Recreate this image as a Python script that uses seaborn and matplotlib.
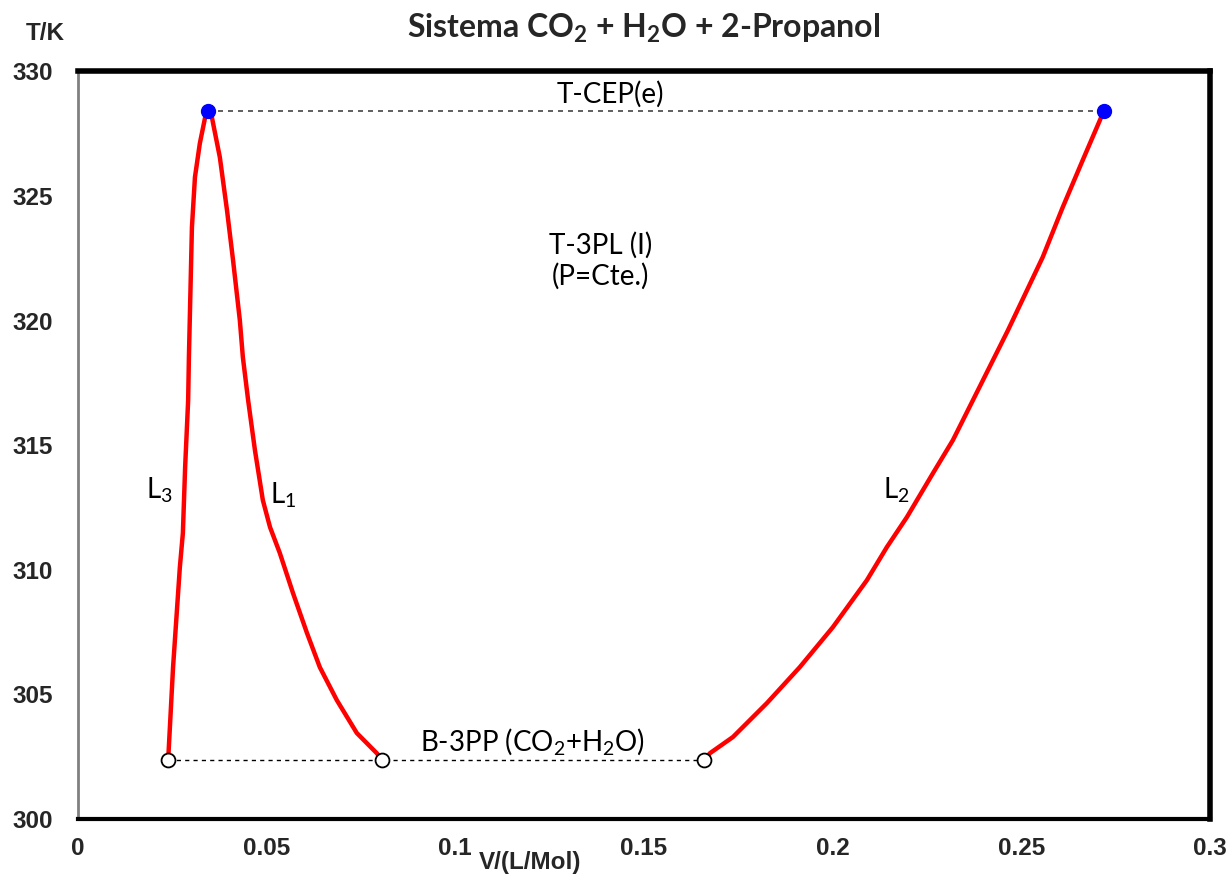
import matplotlib
matplotlib.use("Agg")
import matplotlib.pyplot as plt
import seaborn as sns
import pandas as pd

# L3 branch (low volume liquid)
l3_v = [0.0239, 0.0252, 0.0270, 0.0278, 0.0284, 0.0292, 0.0294, 0.0302, 0.0310, 0.0323, 0.0337, 0.0345]
l3_t = [302.36, 306.09, 310.10, 311.47, 314.12, 316.80, 318.53, 323.74, 325.75, 327.11, 328.15, 328.40]

# L1 branch
l1_v = [0.0345, 0.0355, 0.0376, 0.0395, 0.0411, 0.0429, 0.0437, 0.0451, 0.0469, 0.0490, 0.0509,
        0.0535, 0.0570, 0.0607, 0.0641, 0.0686, 0.0739, 0.0792, 0.0806]
l1_t = [328.40, 328.15, 326.55, 324.42, 322.42, 320.01, 318.53, 316.80, 314.80, 312.79, 311.71,
        310.67, 309.06, 307.46, 306.09, 304.77, 303.45, 302.64, 302.36]

# L2 branch
l2_v = [0.1659, 0.1675, 0.1736, 0.1826, 0.1913, 0.2001, 0.2091, 0.2144, 0.2197, 0.2266, 0.2319,
        0.2372, 0.2465, 0.2557, 0.2610, 0.2663, 0.2719]
l2_t = [302.36, 302.64, 303.29, 304.65, 306.09, 307.70, 309.58, 310.91, 312.11, 313.87, 315.20,
        316.80, 319.61, 322.54, 324.54, 326.43, 328.40]

# critical end points (T-CEP) and lower 3-phase points (B-3PP)
cep_v = [0.0345, 0.2719]
cep_t = [328.40, 328.40]
b3pp_v = [0.0239, 0.0806, 0.1659]
b3pp_t = [302.36, 302.36, 302.36]

sns.set_style("white")
plt.rcParams["mathtext.default"] = "regular"
fig = plt.figure(figsize=(12.32, 8.8), dpi=100)
ax = fig.add_axes([0.0633, 0.0693, 0.9187, 0.8497])

curves = pd.concat([
    pd.DataFrame({"V": l3_v, "T": l3_t, "rama": "L3"}),
    pd.DataFrame({"V": l1_v, "T": l1_t, "rama": "L1"}),
    pd.DataFrame({"V": l2_v, "T": l2_t, "rama": "L2"}),
])

# dashed tie lines
ax.plot(cep_v, cep_t, ls=(0, (3, 3)), color="#444444", lw=1.2, zorder=2)
ax.plot([b3pp_v[0], b3pp_v[-1]], [b3pp_t[0], b3pp_t[-1]], ls=(0, (3, 3)), color="black", lw=1.0, zorder=2)

sns.lineplot(data=curves, x="V", y="T", units="rama", estimator=None, sort=False,
             color="red", lw=3.2, ax=ax, zorder=3)

ax.plot(cep_v, cep_t, "o", color="blue", ms=10, zorder=5)
ax.plot(b3pp_v, b3pp_t, "o", mfc="white", mec="black", mew=1.3, ms=10, zorder=5)

ax.set_xlim(0, 0.3)
ax.set_ylim(300, 330)
ax.set_xticks([0, 0.05, 0.1, 0.15, 0.2, 0.25, 0.3])
ax.set_xticklabels(["0", "0.05", "0.1", "0.15", "0.2", "0.25", "0.3"])
ax.set_yticks([300, 305, 310, 315, 320, 325, 330])
for lab in ax.get_xticklabels() + ax.get_yticklabels():
    lab.set_fontfamily("Liberation Sans")
    lab.set_fontweight("bold")
    lab.set_fontsize(17.5)
ax.tick_params(axis="both", direction="out", length=6, width=1.2, color="gray")
ax.tick_params(axis="y", pad=12)
ax.tick_params(axis="x", pad=7)
ax.set_xlabel("")
ax.set_ylabel("")

ax.spines["left"].set_color("gray")
ax.spines["left"].set_linewidth(2)
ax.spines["bottom"].set_color("black")
ax.spines["bottom"].set_linewidth(3)
ax.spines["top"].set_color("black")
ax.spines["top"].set_linewidth(4)
ax.spines["right"].set_color("black")
ax.spines["right"].set_linewidth(4)

txt = dict(family="Lato", fontsize=20, color="black")
ax.text(0.141, 328.55, "T-CEP(e)", ha="center", va="bottom", **txt)
ax.text(0.1386, 322.4, "T-3PL (I)\n(P=Cte.)", ha="center", va="center", linespacing=1.2, **txt)
ax.text(0.1206, 302.5, r"B-3PP (CO$_2$+H$_2$O)", ha="center", va="bottom", **txt)
ax.text(0.0215, 313.2, r"L$_3$", ha="center", va="center", **txt)
ax.text(0.0545, 313.0, r"L$_1$", ha="center", va="center", **txt)
ax.text(0.2168, 313.2, r"L$_2$", ha="center", va="center", **txt)

fig.text(0.522, 0.968, r"Sistema CO$_2$ + H$_2$O + 2-Propanol", ha="center", va="center",
         family="Lato", fontweight="bold", fontsize=23)
fig.text(0.037, 0.962, "T/K", ha="center", va="center", family="Liberation Sans",
         fontweight="bold", fontsize=17.5)
fig.text(0.43, 0.02, "V/(L/Mol)", ha="center", va="center", family="Liberation Sans",
         fontweight="bold", fontsize=17.5)

fig.savefig("out.png", dpi=100)
